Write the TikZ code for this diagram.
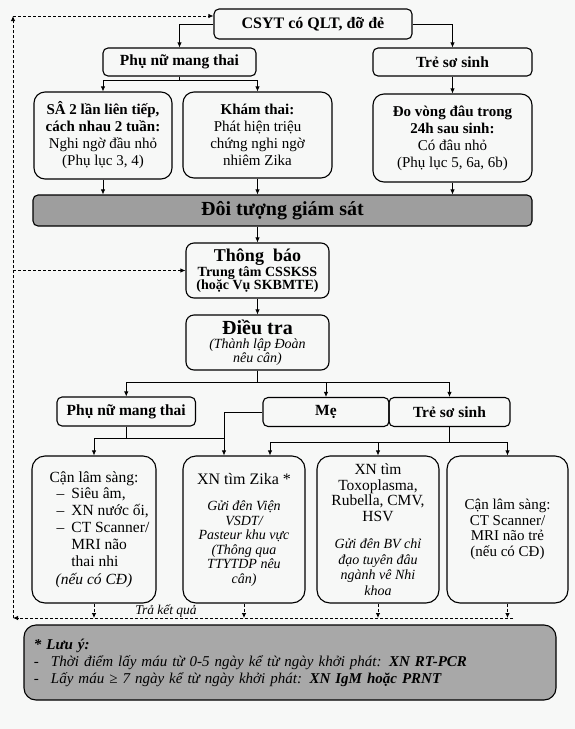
\documentclass[tikz,border=0pt]{standalone}
\usepackage{fontspec}
\setmainfont{Liberation Serif}
\usepackage{tikz}
\usetikzlibrary{arrows.meta, positioning}
\definecolor{paper}{RGB}{247,248,247}
\definecolor{barfill}{RGB}{158,158,158}
\definecolor{notefill}{RGB}{168,168,168}

\begin{document}
\begin{tikzpicture}[x=1pt, y=-1pt,
    box/.style={draw, line width=1.1pt, rounded corners=7pt, align=center, inner sep=2pt, font=\fontsize{15}{17}\selectfont},
    headbox/.style={box, rounded corners=5pt, font=\fontsize{15.5}{17}\selectfont\bfseries},
    testbox/.style={box, rounded corners=13pt, minimum width=122pt, minimum height=147pt},
    greybar/.style={box, rounded corners=5pt, fill=barfill},
    arr/.style={-{Latex[length=5pt, width=4.5pt]}, line width=0.8pt},
    dline/.style={dash pattern=on 3pt off 2pt, line width=0.8pt}
]
\fill[paper] (0,0) rectangle (575,729);
\useasboundingbox (0,0) rectangle (575,729);

% where the cases come from
\node[headbox, minimum width=198pt, minimum height=30pt, font=\fontsize{16}{18}\selectfont\bfseries] (csyt) at (313,24) {CSYT có QLT, đỡ đẻ};
\node[headbox, minimum width=153pt, minimum height=28pt] (pnmt1) at (179.5,62) {Phụ nữ mang thai};
\node[headbox, minimum width=159pt, minimum height=28pt] (tss1) at (452.5,62) {Trẻ sơ sinh};

\node[box, rounded corners=11pt, minimum width=138pt, minimum height=87pt] (sa) at (103,135.5) {\textbf{SÂ 2 lần liên tiếp,}\\ \textbf{cách nhau 2 tuần:}\\ Nghi ngờ đầu nhỏ\\ (Phụ lục 3, 4)};
\node[box, rounded corners=11pt, minimum width=149pt, minimum height=86pt] (kt) at (257.5,135) {\textbf{Khám thai:}\\ Phát hiện triệu\\ chứng nghi ngờ\\ nhiêm Zika};
\node[box, rounded corners=11pt, minimum width=159pt, minimum height=88pt] (dv) at (452.5,138) {\textbf{Đo vòng đâu trong}\\ \textbf{24h sau sinh:}\\ Có đâu nhỏ\\ (Phụ lục 5, 6a, 6b)};

\node[greybar, minimum width=499pt, minimum height=31pt, font=\fontsize{20}{22}\selectfont\bfseries] (dtgs) at (282.5,210.5) {Đôi tượng giám sát};

% report and investigation
\node[box, rounded corners=8pt, minimum width=143pt, minimum height=55pt, font=\fontsize{14}{13.5}\selectfont\bfseries] (tb) at (257.5,270.5) {{\fontsize{18}{18}\selectfont Thông\ \ báo}\\ Trung tâm CSSKSS\\ (hoặc Vụ SKBMTE)};
\node[box, rounded corners=8pt, minimum width=143pt, minimum height=55pt, font=\fontsize{14}{14}\selectfont\itshape] (dt) at (257.5,342.5) {{\fontsize{20}{20}\selectfont\bfseries\upshape Điều tra}\\ (Thành lập Đoàn\\ nêu cân)};

\node[headbox, minimum width=138.5pt, minimum height=29pt] (pnmt2) at (126.25,411.5) {Phụ nữ mang thai};
\node[headbox, minimum width=126pt, minimum height=29pt] (me) at (326,412) {Mẹ};
\node[headbox, minimum width=121pt, minimum height=29pt] (tss2) at (449.5,412) {Trẻ sơ sinh};

% tests
\node[testbox, minimum width=124pt, font=\fontsize{15.5}{17}\selectfont] (cls1) at (94,529.5) {Cận lâm sàng:\\ \hspace*{18pt}\begin{tabular}{@{}l@{\hspace{7pt}}l@{}}–&Siêu âm,\\ –&XN nước ối,\\ –&CT Scanner/\\ &MRI não\\ &thai nhi\end{tabular}\\ \textit{(nếu có CĐ)}};
\node[testbox, font=\fontsize{14}{14.5}\selectfont\itshape] (xnz) at (244,529.5) {{\fontsize{16}{18}\selectfont\upshape XN tìm Zika *}\\[12pt] Gửi đên Viện\\ VSDT/\\ Pasteur khu vực\\ (Thông qua\\ TTYTDP nêu\\ cân)};
\node[testbox, font=\fontsize{15.5}{15.5}\selectfont] (xnt) at (378,529.5) {XN tìm\\ Toxoplasma,\\ Rubella, CMV,\\ HSV\\[12pt] {\fontsize{14}{14}\selectfont\itshape Gửi đên BV chỉ}\\ {\fontsize{14}{14}\selectfont\itshape đạo tuyên đâu}\\ {\fontsize{14}{14}\selectfont\itshape ngành vê Nhi}\\ {\fontsize{14}{14}\selectfont\itshape khoa}};
\node[testbox, minimum width=121pt, font=\fontsize{15}{15.5}\selectfont] (cls2) at (507.5,529.5) {Cận lâm sàng:\\ CT Scanner/\\ MRI não trẻ\\ (nếu có CĐ)};

\node[box, fill=notefill, rounded corners=12pt, minimum width=532pt, minimum height=75pt, text width=512pt, align=left, inner xsep=10pt, font=\fontsize{15}{17}\selectfont\itshape] (note) at (290,662.5) {\textbf{* Lưu ý:}\\ -\hspace{12pt}Thời điểm lấy máu từ 0-5 ngày kể từ ngày khởi phát: \textbf{XN RT-PCR}\\ -\hspace{12pt}Lấy máu ≥ 7 ngày kể từ ngày khởi phát: \textbf{XN IgM hoặc PRNT}};

% solid connectors
\draw[arr] (csyt.west) -| (pnmt1.north);
\draw[arr] (csyt.east) -| (tss1.north);
\draw[arr] (pnmt1.south) -- ++(0,4) -| (sa.north);
\draw[arr] (pnmt1.south) -- ++(0,4) -| (kt.north);
\draw[arr] (tss1.south) -- (dv.north);
\foreach \n in {sa, kt, dv} \draw[arr] (\n.south) -- (\n.south |- dtgs.north);
\draw[arr] (tb.north |- dtgs.south) -- (tb.north);
\draw[arr] (tb.south) -- (dt.north);
\foreach \n in {pnmt2, me, tss2} \draw[arr] (dt.south) -- ++(0,12) -| (\n.north);

% branches into the tests
\coordinate (zin1) at (224,438);
\coordinate (zin2) at (270,442);
\coordinate (pj) at (pnmt2.south |- zin1);
\coordinate (tj) at (tss2.south |- zin2);
\draw (pnmt2.south) -- (pj) -- (zin1);
\draw[arr] (pj) -| (cls1.north);
\draw[arr] (me.west) -| (zin1 |- xnz.north);
\draw (tss2.south) -- (tj);
\draw[arr] (tj) -- (zin2) -- (zin2 |- xnz.north);
\draw[arr] (tj) -| (xnt.north);
\draw[arr] (tj) -| (cls2.north);

% results go back
\coordinate (retR) at (513,618);
\coordinate (retL) at (13,618);
\coordinate (topL) at (13,16);
\foreach \n in {cls1, xnz, xnt, cls2} \draw[dline, arr] (\n.south) -- (\n.south |- retL);
\draw[dline, arr] (retR) -- (retL);
\draw[dline, arr] (retL) -- (topL);
\draw[dline, arr] (topL) -- (topL -| csyt.west);
\draw[dline, arr] (retL |- tb.west) -- (tb.west);
\node[font=\fontsize{13.5}{14}\selectfont\itshape, anchor=base] (tkq) at (166,614) {Trả kết quả};
\end{tikzpicture}
\end{document}
